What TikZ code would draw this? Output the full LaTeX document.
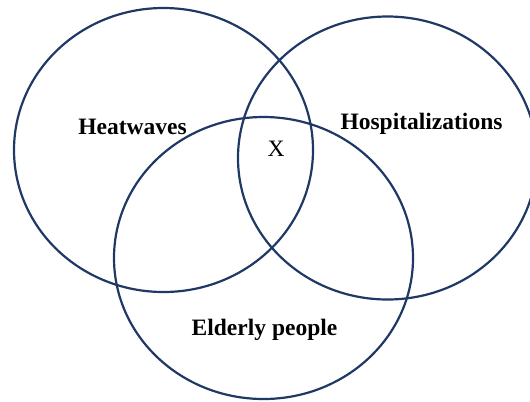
\documentclass[tikz,border=0pt]{standalone}
\usepackage{fontspec}
\setmainfont{Liberation Serif}
\usetikzlibrary{shapes.geometric}
\definecolor{vennblue}{HTML}{1F3864}
\begin{document}
\begin{tikzpicture}[x=1bp,y=-1bp]
	\tikzset{venn/.style = {shape=ellipse, draw=vennblue, line width=2.2bp, inner sep=0pt}}
	\tikzset{vennlabel/.style = {anchor=base, inner sep=0pt, font=\fontsize{23.5bp}{28bp}\selectfont\bfseries}}

	\useasboundingbox (0,0) rectangle (530,401);
	\clip (0,0) rectangle (530,401);

	\node[venn, minimum width=299bp, minimum height=284bp] (heat) at (163.5,150) {};
	\node[venn, minimum width=299bp, minimum height=283bp] (hosp) at (387.5,158) {};
	\node[venn, minimum width=299bp, minimum height=282bp] (elder) at (263.5,258) {};

	\node[vennlabel] (heatlabel) at (132.5,134) {Heatwaves};
	\node[vennlabel] (hosplabel) at (421.5,129) {Hospitalizations};
	\node[vennlabel] (elderlabel) at (264.5,335) {Elderly people};
	\node[vennlabel, font=\fontsize{23.5bp}{28bp}\selectfont] (x) at (276,156) {X};

\end{tikzpicture}
\end{document}
